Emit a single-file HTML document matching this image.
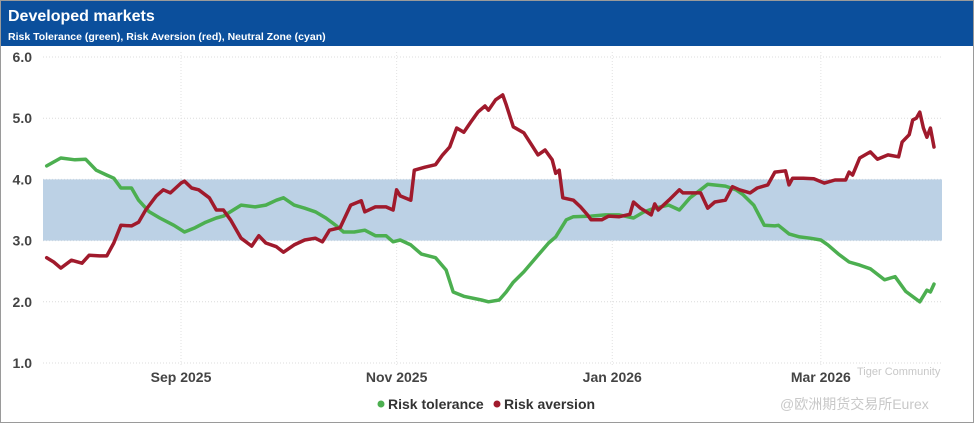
<!DOCTYPE html>
<html><head><meta charset="utf-8"><style>
body{margin:0;background:#fff;width:975px;height:424px;overflow:hidden;font-family:"Liberation Sans","Noto Sans CJK SC",sans-serif}
</style></head><body>
<svg id="chart" width="975" height="424" xmlns="http://www.w3.org/2000/svg">
<rect x="0.5" y="0.5" width="973" height="422" fill="#fff" stroke="#9a9a9a"/>
<rect x="1" y="1" width="972" height="45" fill="#0b4f9c"/>
<text x="8" y="21" font-size="16" font-weight="bold" fill="#fff">Developed markets</text>
<text x="8" y="40" font-size="10.5" font-weight="bold" fill="#fff">Risk Tolerance (green), Risk Aversion (red), Neutral Zone (cyan)</text>
<g id="grid"></g>
<g id="band"></g>
<g id="series"></g>
<g id="axes"></g>
<g>
<circle cx="381" cy="404" r="3.5" fill="#4caf50"/>
<text x="388" y="409" font-size="14" font-weight="bold" fill="#333">Risk tolerance</text>
<circle cx="497" cy="404" r="3.5" fill="#a01a2c"/>
<text x="504" y="409" font-size="14" font-weight="bold" fill="#333">Risk aversion</text>
</g>
<text x="857" y="375" font-size="11" fill="#c8c8c8">Tiger Community</text>
<text x="780" y="409" font-size="14" fill="#c8c8c8">@欧洲期货交易所Eurex</text>
</svg>
<script>
const yTicks=[1,2,3,4,5,6];
const xTickLabels=["Sep 2025","Nov 2025","Jan 2026","Mar 2026"];
const xTickDays=[0,61,122,181];
const bandRange=[3,4];
const tolDays=[-38,-34,-30,-27,-24,-21,-19,-17,-14,-12,-9,-6,-2,1,4,7,10,12,17,21,24,27,29,32,35,38,41,44,46,49,52,55,58,60,62,65,68,72,75,77,80,85,87,90,92,94,97,101,104,106,109,111,116,120,124,128,131,134,138,141,144,147,149,154,157,159,162,165,168,169,172,175,178,181,183,186,189,192,195,197,199,202,205,209,211,212,213];
const tolVals=[4.22,4.35,4.32,4.33,4.15,4.07,4.02,3.86,3.86,3.66,3.47,3.37,3.25,3.14,3.21,3.30,3.37,3.40,3.58,3.55,3.58,3.66,3.70,3.58,3.53,3.47,3.37,3.24,3.14,3.14,3.17,3.08,3.08,2.98,3.01,2.93,2.78,2.72,2.52,2.16,2.09,2.03,2.0,2.03,2.16,2.32,2.49,2.76,2.96,3.06,3.34,3.39,3.40,3.42,3.42,3.37,3.47,3.53,3.58,3.50,3.70,3.83,3.92,3.89,3.83,3.75,3.58,3.25,3.24,3.25,3.11,3.06,3.04,3.01,2.93,2.78,2.65,2.60,2.54,2.45,2.36,2.41,2.17,2.0,2.19,2.16,2.29];
const avDays=[-38,-36,-34,-31,-28,-26,-23,-21,-19,-17,-14,-12,-10,-7,-5,-3,0,1,3,5,8,10,12,14,17,20,22,24,27,29,32,35,38,40,42,45,48,51,52,55,58,60,61,62,65,66,69,72,74,76,78,80,82,84,86,87,89,91,92,94,97,99,101,103,105,106,107,108,111,113,115,116,119,121,124,127,128,130,133,134,135,138,141,142,144,147,149,151,154,156,158,161,163,166,168,171,172,173,176,179,182,185,188,189,190,192,195,197,200,203,204,206,207,208,209,210,211,212,213];
const avVals=[2.72,2.65,2.55,2.68,2.63,2.76,2.75,2.75,2.96,3.25,3.24,3.30,3.50,3.73,3.83,3.78,3.94,3.97,3.86,3.83,3.70,3.50,3.50,3.34,3.04,2.91,3.08,2.96,2.90,2.81,2.93,3.01,3.04,2.98,3.17,3.21,3.58,3.65,3.47,3.55,3.55,3.50,3.83,3.73,3.66,4.15,4.20,4.24,4.40,4.53,4.84,4.77,4.94,5.10,5.20,5.13,5.30,5.38,5.22,4.86,4.76,4.58,4.40,4.48,4.32,4.10,4.15,3.70,3.66,3.55,3.42,3.34,3.34,3.40,3.39,3.43,3.63,3.53,3.42,3.60,3.50,3.66,3.83,3.78,3.78,3.78,3.53,3.63,3.66,3.88,3.83,3.78,3.86,3.91,4.12,4.14,3.91,4.02,4.02,4.01,3.94,3.99,3.99,4.12,4.07,4.35,4.45,4.33,4.40,4.37,4.61,4.73,4.97,5.0,5.10,4.84,4.69,4.84,4.53];
const NS="http://www.w3.org/2000/svg";
const xL=43,xR=942,pxPerDay=3.535,day0X=181;
const yS=v=>57+(6-v)*61.2;
const xS=d=>day0X+d*pxPerDay;
function mk(tag,attrs,parent){const e=document.createElementNS(NS,tag);for(const k in attrs)e.setAttribute(k,attrs[k]);document.getElementById(parent).appendChild(e);return e;}
yTicks.forEach(v=>{
  const l=mk('line',{x1:xL,x2:xR,y1:yS(v),y2:yS(v),stroke:'#dcdcdc','stroke-dasharray':'1,2'},'grid');
  
  
  const t=mk('text',{x:32,y:yS(v)+5,'font-size':14,'font-weight':'bold',fill:'#444','text-anchor':'end'},'axes');
  t.textContent=v.toFixed(1);
  
  
});
xTickDays.forEach((d,i)=>{
  const l=mk('line',{x1:xS(d),x2:xS(d),y1:52,y2:365,stroke:'#e2e2e2','stroke-dasharray':'1,2'},'grid');
  
  
  const t=mk('text',{x:xS(d),y:382,'font-size':14,'font-weight':'bold',fill:'#444','text-anchor':'middle'},'axes');
  t.textContent=xTickLabels[i];
  
  
});
const b=mk('rect',{x:xL,y:yS(bandRange[1]),width:xR-xL,height:yS(bandRange[0])-yS(bandRange[1]),fill:'#bcd1e5'},'band');


function line(days,vals,color,name){
  const d=days.map((x,i)=>(i?'L':'M')+xS(x).toFixed(1)+','+yS(vals[i]).toFixed(1)).join('');
  const p=mk('path',{d:d,fill:'none',stroke:color,'stroke-width':3.5,'stroke-linejoin':'round','stroke-linecap':'round'},'series');
  
  
}
line(tolDays,tolVals,'#4caf50','risk-tolerance-line');
line(avDays,avVals,'#a01a2c','risk-aversion-line');
</script>
</body></html>
